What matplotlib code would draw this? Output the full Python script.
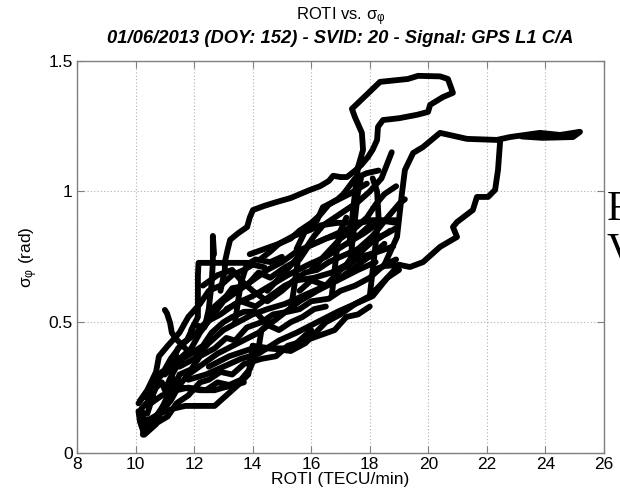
import matplotlib
matplotlib.use("Agg")
import matplotlib.pyplot as plt

# ROTI (TECU/min) vs sigma_phi (rad) tracks, one pair of lists per pass segment
roti_a = [10.25, 10.3, 10.2, 10.45, 10.6, 10.9, 11.2, 11.6, 12.0, 12.4, 12.9, 13.4, 14.0, 14.6, 15.2, 15.9, 16.5, 17.2, 17.8, 18.3]
sig_a = [0.07, 0.12, 0.17, 0.20, 0.26, 0.30, 0.36, 0.42, 0.45, 0.50, 0.53, 0.57, 0.60, 0.64, 0.68, 0.72, 0.75, 0.80, 0.84, 0.88]

roti_b = [10.3, 10.6, 10.9, 11.2, 11.5, 11.8, 12.3, 12.8, 13.5, 14.2, 14.9, 15.6, 16.2, 16.9, 17.6, 18.2]
sig_b = [0.09, 0.12, 0.16, 0.20, 0.26, 0.30, 0.34, 0.38, 0.42, 0.46, 0.52, 0.58, 0.62, 0.66, 0.70, 0.73]

roti_c = [10.2, 10.5, 10.8, 11.3, 11.7, 12.3, 12.7, 13.0, 13.5, 13.85, 13.95, 14.0]
sig_c = [0.12, 0.13, 0.15, 0.17, 0.18, 0.18, 0.18, 0.21, 0.26, 0.30, 0.36, 0.41]

roti_d = [10.4, 10.9, 11.4, 11.8, 12.4, 12.8, 13.2, 13.6, 13.9, 14.2, 14.3, 14.6]
sig_d = [0.18, 0.22, 0.24, 0.25, 0.24, 0.27, 0.26, 0.28, 0.32, 0.40, 0.47, 0.50]

roti_e = [12.5, 13.2, 14.0, 14.6, 15.3, 15.5, 16.0]
sig_e = [0.33, 0.37, 0.40, 0.40, 0.40, 0.42, 0.47]

roti_f = [11.0, 11.4, 11.9, 12.2, 12.6, 13.0, 13.5, 14.0, 14.5, 15.0, 15.5, 16.1, 16.7, 17.3, 17.9, 18.9]
sig_f = [0.30, 0.35, 0.40, 0.46, 0.52, 0.58, 0.62, 0.66, 0.70, 0.73, 0.77, 0.80, 0.83, 0.86, 0.89, 0.89]

roti_g = [11.9, 12.13, 12.13, 12.13, 12.15, 12.6, 13.2, 13.9, 14.1, 14.6, 15.0]
sig_g = [0.47, 0.52, 0.60, 0.68, 0.727, 0.727, 0.727, 0.727, 0.74, 0.73, 0.75]

roti_h = [12.4, 12.5, 12.6, 12.64, 12.64, 12.68]
sig_h = [0.50, 0.55, 0.65, 0.73, 0.83, 0.76]

roti_i = [11.0, 11.07, 11.18, 11.24, 11.42, 11.7]
sig_i = [0.547, 0.535, 0.497, 0.459, 0.432, 0.40]

roti_j = [11.5, 12.0, 12.5, 13.0, 13.5, 14.0, 14.5, 15.1, 15.7, 16.3, 17.0, 17.6, 18.1, 18.5]
sig_j = [0.33, 0.36, 0.42, 0.47, 0.50, 0.53, 0.55, 0.57, 0.60, 0.63, 0.67, 0.72, 0.76, 0.80]

roti_k = [11.8, 12.4, 13.0, 13.6, 14.2, 14.9, 15.5, 16.2, 16.9, 17.5, 18.0, 18.6, 19.0]
sig_k = [0.28, 0.30, 0.33, 0.36, 0.38, 0.43, 0.46, 0.50, 0.54, 0.57, 0.60, 0.67, 0.70]

roti_l = [14.5, 15.0, 15.4, 15.8, 16.1, 16.4, 16.8, 17.2, 17.6, 18.0, 18.4, 18.75]
sig_l = [0.62, 0.68, 0.73, 0.78, 0.83, 0.87, 0.90, 0.93, 0.96, 1.00, 1.05, 1.15]

roti_m = [16.0, 16.5, 17.0, 17.5, 17.9, 18.2, 18.5, 18.9]
sig_m = [0.70, 0.76, 0.82, 0.86, 0.90, 0.95, 0.99, 1.02]

roti_n = [17.3, 17.4, 17.5, 17.6, 17.7]
sig_n = [0.70, 0.80, 0.90, 1.00, 1.05]

roti_o = [18.0, 18.1, 18.2, 18.3, 18.25, 18.1]
sig_o = [0.60, 0.70, 0.80, 0.90, 1.00, 1.05]

roti_p = [13.9, 14.4, 14.9, 15.4, 15.9, 16.3, 16.9, 17.5, 18.3, 18.9]
sig_p = [0.76, 0.78, 0.80, 0.83, 0.85, 0.87, 0.88, 0.88, 0.89, 0.88]

# long excursion up to the 1.44 rad loop
roti_q = [12.9, 13.05, 13.05, 13.15, 13.23, 13.5, 13.81, 13.9, 14.01, 14.4, 14.83, 15.3, 15.96, 16.3, 16.6,
          16.75, 17.0, 17.22, 17.5, 17.7, 17.94, 18.1, 18.25, 18.28, 18.45, 19.0, 19.61, 19.99, 20.06, 20.5,
          20.84, 20.67, 20.4, 19.65, 19.3, 18.35, 17.39, 17.49, 17.73, 17.77, 17.6, 17.5, 17.4, 17.3]
sig_q = [0.62, 0.70, 0.73, 0.78, 0.815, 0.84, 0.864, 0.90, 0.929, 0.945, 0.96, 0.975, 1.006, 1.02, 1.04,
         1.06, 1.055, 1.055, 1.08, 1.10, 1.132, 1.16, 1.197, 1.247, 1.273, 1.28, 1.293, 1.304, 1.331, 1.361,
         1.377, 1.43, 1.44, 1.442, 1.43, 1.419, 1.316, 1.285, 1.224, 1.159, 1.094, 1.00, 0.90, 0.80]

# excursion out to 25 TECU/min
roti_r = [18.5, 18.93, 19.1, 19.2, 19.48, 19.82, 20.4, 21.32, 22.34, 22.79, 23.81, 24.5, 25.18, 24.94, 23.9, 23.2]
sig_r = [0.72, 0.826, 0.994, 1.082, 1.147, 1.17, 1.224, 1.201, 1.197, 1.208, 1.224, 1.216, 1.228, 1.208, 1.205, 1.21]

roti_s = [22.45, 22.38, 22.28, 22.04, 21.66, 21.52, 20.98, 20.84, 20.98, 20.4, 19.82, 19.37, 19.03, 18.52, 18.1]
sig_s = [1.189, 1.082, 1.006, 0.979, 0.979, 0.929, 0.883, 0.864, 0.826, 0.788, 0.730, 0.711, 0.719, 0.715, 0.70]

roti_t = [15.5, 15.8, 16.2, 16.4, 17.3, 17.9]
sig_t = [0.78, 0.85, 0.89, 0.94, 0.99, 1.03]

roti_u1 = [10.4, 10.6, 10.55, 10.9, 11.2, 11.45, 11.75, 12.0, 12.35, 12.6, 13.1, 13.3, 13.8, 14.2, 14.6, 15.1, 15.6, 15.9, 16.5, 17.1, 17.6, 18.0]
sig_u1 = [0.15, 0.22, 0.27, 0.31, 0.33, 0.40, 0.43, 0.49, 0.48, 0.55, 0.60, 0.63, 0.64, 0.69, 0.67, 0.71, 0.74, 0.79, 0.82, 0.84, 0.83, 0.87]

roti_u2 = [10.15, 10.4, 10.7, 10.8, 11.1, 11.5, 11.8, 12.2, 12.5, 12.9, 13.3, 13.7, 14.0, 14.4]
sig_u2 = [0.20, 0.24, 0.31, 0.37, 0.41, 0.46, 0.52, 0.57, 0.62, 0.64, 0.68, 0.70, 0.72, 0.71]

roti_u3 = [10.3, 10.7, 11.0, 11.3, 11.5, 11.9, 12.2, 12.7, 13.1, 13.4, 13.8, 14.3, 14.7, 15.2, 15.6, 16.0, 16.6, 17.0, 17.5, 18.0, 18.5, 18.9]
sig_u3 = [0.10, 0.14, 0.19, 0.24, 0.30, 0.32, 0.37, 0.40, 0.44, 0.43, 0.48, 0.50, 0.53, 0.54, 0.55, 0.58, 0.59, 0.62, 0.64, 0.67, 0.72, 0.74]

roti_u4 = [10.5, 10.8, 11.1, 11.4, 11.8, 12.2, 12.5, 12.9, 13.3, 13.7, 14.3, 14.8, 15.2, 15.8, 16.3, 16.8, 17.2, 17.6, 18.0]
sig_u4 = [0.10, 0.12, 0.14, 0.19, 0.22, 0.27, 0.28, 0.31, 0.30, 0.34, 0.36, 0.37, 0.41, 0.43, 0.45, 0.47, 0.52, 0.53, 0.56]

roti_u5 = [12.3, 12.8, 13.3, 13.6, 14.0, 14.5, 15.0, 15.4, 15.8, 16.2, 16.6, 17.0, 17.4, 17.8, 18.3, 18.7]
sig_u5 = [0.64, 0.68, 0.70, 0.66, 0.62, 0.58, 0.62, 0.66, 0.69, 0.70, 0.73, 0.75, 0.77, 0.79, 0.82, 0.85]

roti_u6 = [14.25, 14.6, 14.9, 15.3, 15.6, 16.0, 16.3, 16.6, 16.9, 17.1, 17.3, 17.5, 17.9, 18.3]
sig_u6 = [0.74, 0.77, 0.80, 0.82, 0.85, 0.88, 0.91, 0.95, 0.97, 0.99, 1.02, 1.05, 1.07, 1.08]

roti_u7 = [14.0, 14.6, 15.3, 15.8, 16.5, 17.0, 17.5, 18.1, 18.6, 19.0]
sig_u7 = [0.41, 0.40, 0.39, 0.42, 0.50, 0.53, 0.57, 0.60, 0.67, 0.72]

roti_u8 = [13.1, 13.6, 14.1, 14.6, 15.1, 15.5, 16.1, 16.7, 17.2, 17.7, 18.3, 18.8]
sig_u8 = [0.55, 0.58, 0.56, 0.60, 0.64, 0.66, 0.67, 0.69, 0.72, 0.75, 0.77, 0.79]

roti_u9 = [11.1, 11.6, 12.2, 12.7, 13.0, 13.4, 13.7]
sig_u9 = [0.25, 0.25, 0.24, 0.24, 0.25, 0.26, 0.27]

roti_u10 = [10.1, 10.15, 10.3, 10.5, 10.7, 10.9, 11.1, 11.3, 11.2, 11.4]
sig_u10 = [0.16, 0.12, 0.07, 0.09, 0.11, 0.17, 0.22, 0.28, 0.31, 0.37]

roti_u11 = [10.1, 10.3, 10.5, 10.7, 10.9, 11.0, 11.2, 11.4, 11.6, 11.9, 12.3, 12.6, 13.0, 13.3, 13.7, 14.1, 14.5, 14.9, 15.3, 15.7, 16.1, 16.5]
sig_u11 = [0.19, 0.22, 0.20, 0.25, 0.27, 0.24, 0.29, 0.33, 0.36, 0.38, 0.41, 0.46, 0.50, 0.52, 0.54, 0.54, 0.49, 0.47, 0.50, 0.52, 0.55, 0.56]

roti_u12 = [15.6, 16.0, 16.5, 17.0, 17.4, 17.8, 18.2, 18.6, 18.9]
sig_u12 = [0.62, 0.66, 0.64, 0.70, 0.73, 0.78, 0.82, 0.84, 0.86]

roti_u13 = [16.7, 16.8, 16.9, 17.0, 17.2]
sig_u13 = [0.60, 0.70, 0.80, 0.85, 0.90]

roti_u14 = [15.3, 15.4, 15.5, 15.6]
sig_u14 = [0.55, 0.62, 0.70, 0.78]

roti_u15 = [13.4, 13.5, 13.6, 13.8]
sig_u15 = [0.50, 0.58, 0.65, 0.72]

roti_u16 = [19.2, 19.03, 18.6, 18.1, 17.56, 17.2]
sig_u16 = [0.97, 0.956, 0.90, 0.83, 0.776, 0.72]

tracks = [(roti_a, sig_a), (roti_b, sig_b), (roti_c, sig_c), (roti_d, sig_d), (roti_e, sig_e),
          (roti_f, sig_f), (roti_g, sig_g), (roti_h, sig_h), (roti_i, sig_i), (roti_j, sig_j),
          (roti_k, sig_k), (roti_l, sig_l), (roti_m, sig_m), (roti_n, sig_n), (roti_o, sig_o),
          (roti_p, sig_p), (roti_q, sig_q), (roti_r, sig_r), (roti_s, sig_s), (roti_t, sig_t),
          (roti_u1, sig_u1), (roti_u2, sig_u2), (roti_u3, sig_u3), (roti_u4, sig_u4),
          (roti_u5, sig_u5), (roti_u6, sig_u6), (roti_u7, sig_u7), (roti_u8, sig_u8),
          (roti_u9, sig_u9), (roti_u10, sig_u10), (roti_u11, sig_u11), (roti_u12, sig_u12),
          (roti_u13, sig_u13), (roti_u14, sig_u14), (roti_u15, sig_u15), (roti_u16, sig_u16)]

x_ticks = [8, 10, 12, 14, 16, 18, 20, 22, 24, 26]
y_ticks = [0, 0.5, 1, 1.5]
y_tick_labels = ["0", "0.5", "1", "1.5"]

plt.rcParams["font.family"] = ["Liberation Sans", "DejaVu Sans"]
fig = plt.figure(figsize=(6.2, 4.99), dpi=100)
ax = fig.add_axes([0.1242, 0.0922, 0.850, 0.7862])

for rx, sy in tracks:
    ax.plot(rx, sy, color="black", lw=4.2, solid_joinstyle="round", solid_capstyle="round")

ax.set_xlim(8, 26)
ax.set_ylim(0, 1.5)
ax.set_xticks(x_ticks)
ax.set_yticks(y_ticks)
ax.set_yticklabels(y_tick_labels)
ax.grid(True, color="#b0b0b0", linestyle=(0, (1, 2)), linewidth=0.8)
ax.set_axisbelow(True)
for sp in ax.spines.values():
    sp.set_color("#808080")
    sp.set_linewidth(1.0)
ax.tick_params(direction="in", length=5, width=0.8, color="#808080", top=True, right=True,
               labelsize=12.5, labelcolor="black", pad=3)

ax.set_xlabel("ROTI (TECU/min)", fontsize=12.5, labelpad=0)
ax.set_ylabel(r"$\mathregular{σ_φ}$ (rad)", fontsize=12.5, labelpad=6)

fig.text(0.549, 0.966, r"ROTI vs. $\mathregular{σ_φ}$", ha="center", va="center", fontsize=12)
fig.text(0.549, 0.922, "01/06/2013 (DOY: 152) - SVID: 20 - Signal: GPS L1 C/A", ha="center", va="center",
         fontsize=13.2, fontstyle="italic", fontweight="bold")

fig.text(0.979, 0.559, "F", fontsize=30, family="Liberation Serif", ha="left", va="baseline")
fig.text(0.979, 0.475, "V", fontsize=30, family="Liberation Serif", ha="left", va="baseline")

fig.savefig("out.png", dpi=100)
